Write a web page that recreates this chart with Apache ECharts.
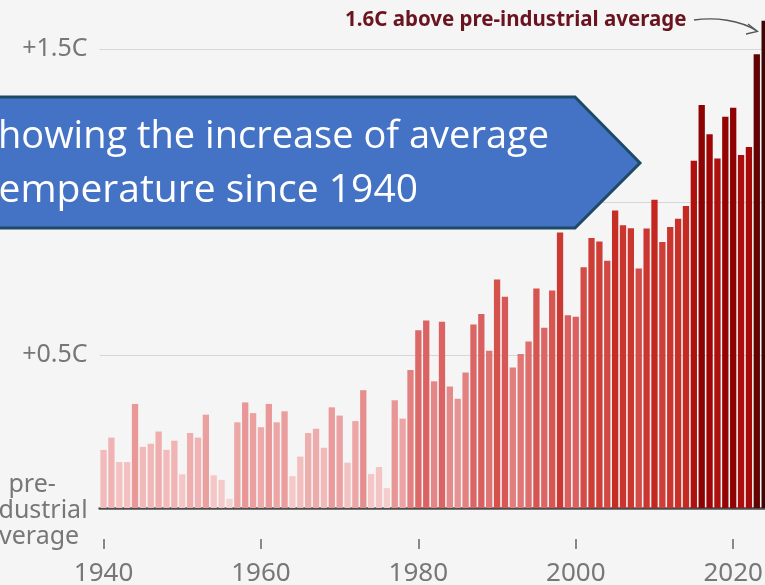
<!DOCTYPE html>
<html>
<head>
<meta charset="utf-8">
<script src="https://cdn.jsdelivr.net/npm/echarts@6/dist/echarts.min.js"></script>
<style>
html,body{margin:0;padding:0;background:#f5f5f5;}
#c{width:765px;height:585px;}
</style>
</head>
<body>
<div id="c"></div>
<script>
var years = ['1940','1941','1942','1943','1944','1945','1946','1947','1948','1949',
'1950','1951','1952','1953','1954','1955','1956','1957','1958','1959',
'1960','1961','1962','1963','1964','1965','1966','1967','1968','1969',
'1970','1971','1972','1973','1974','1975','1976','1977','1978','1979',
'1980','1981','1982','1983','1984','1985','1986','1987','1988','1989',
'1990','1991','1992','1993','1994','1995','1996','1997','1998','1999',
'2000','2001','2002','2003','2004','2005','2006','2007','2008','2009',
'2010','2011','2012','2013','2014','2015','2016','2017','2018','2019',
'2020','2021','2022','2023','2024'];

var anomaly = [0.19,0.23,0.15,0.15,0.34,0.20,0.21,0.25,0.19,0.22,
0.11,0.245,0.23,0.305,0.107,0.092,0.03,0.28,0.345,0.31,
0.264,0.34,0.28,0.316,0.104,0.168,0.245,0.259,0.197,0.329,
0.302,0.148,0.284,0.385,0.111,0.134,0.065,0.352,0.292,0.451,
0.581,0.613,0.414,0.609,0.397,0.357,0.443,0.600,0.634,0.514,
0.747,0.690,0.459,0.503,0.544,0.717,0.589,0.711,0.900,0.630,
0.625,0.787,0.882,0.871,0.808,0.972,0.924,0.914,0.783,0.913,
1.007,0.869,0.918,0.945,0.987,1.135,1.317,1.221,1.142,1.279,
1.308,1.154,1.180,1.483,1.592];

var yTicks = {0:'pre-\nindustrial\naverage', 0.5:'+0.5C', 1:'+1.0C', 1.5:'+1.5C'};
var annotationText = '1.6C above pre-industrial average';
var boxLine1 = 'Showing the increase of average';
var boxLine2 = 'temperature since 1940';

var chart = echarts.init(document.getElementById('c'), null, {renderer:'canvas'});
var FONT = '"Noto Sans", "Open Sans", sans-serif';

chart.setOption({
  backgroundColor: '#f5f5f5',
  animation: false,
  grid: {left: 99.6, width: 669, top: -104, height: 612, containLabel: false, outerBoundsMode: 'none'},
  visualMap: {
    type: 'continuous', show: false, seriesIndex: 0, dimension: 1,
    min: 0, max: 1.6,
    inRange: {color: ['#f8d6d6','#f2b9b9','#e58989','#db6464','#d34a44','#c42820','#a30606','#7e0000','#3a0505']}
  },
  xAxis: [{
    type: 'category', data: years, position: 'bottom',
    axisLine: {show: true, lineStyle: {color: '#4d4d4d', width: 2.5}},
    axisTick: {show: false}, axisLabel: {show: false}, splitLine: {show: false}
  }, {
    type: 'category', data: years, position: 'bottom', offset: 31,
    axisLine: {show: false},
    axisTick: {show: true, interval: 19, alignWithLabel: true, length: 10, lineStyle: {color: '#666', width: 1.5}},
    axisLabel: {interval: 19, fontSize: 26, color: '#777', margin: 22, fontFamily: FONT},
    splitLine: {show: false}
  }],
  yAxis: {
    type: 'value', min: 0, max: 2, interval: 0.5,
    axisLine: {show: false}, axisTick: {show: false},
    splitLine: {show: true, lineStyle: {color: '#d6d6d6', width: 1.2}},
    axisLabel: {
      fontSize: 25, color: '#777', margin: 12, fontFamily: FONT,
      formatter: function (v) {
        if (v === 0) return '{c|' + yTicks[0] + '}';
        return yTicks[v] || '';
      },
      rich: {c: {align: 'center', fontSize: 25, lineHeight: 26, color: '#777', fontFamily: FONT, padding: [6,0,0,0]}}
    }
  },
  series: [{
    type: 'bar', data: anomaly, xAxisIndex: 0, barWidth: '80%',
    itemStyle: {borderWidth: 0}
  }],
  graphic: [
    {type: 'text', z: 100, x: 345, y: 20,
     style: {text: annotationText, font: 'bold 20.5px ' + FONT, fill: '#6a1420', textVerticalAlign: 'middle'}},
    {type: 'bezierCurve', z: 100,
     shape: {x1: 694, y1: 20, cpx1: 715, cpy1: 17, cpx2: 740, cpy2: 20, x2: 757, y2: 31},
     style: {stroke: '#555', lineWidth: 1.3, fill: null}},
    {type: 'polyline', z: 100,
     shape: {points: [[748, 24], [757.5, 31.5], [746, 34]]},
     style: {stroke: '#555', lineWidth: 1.3, fill: null}},
    {type: 'polygon', z: 110,
     shape: {points: [[-10, 97], [575, 97], [640, 163], [575, 228], [-10, 228]]},
     style: {fill: '#4472c4', stroke: '#1d4a66', lineWidth: 3}},
    {type: 'text', z: 120, x: 549, y: 137,
     style: {text: boxLine1, font: '38px "Open Sans", sans-serif', fill: '#ffffff', textAlign: 'right', textVerticalAlign: 'middle'}},
    {type: 'text', z: 120, x: 418, y: 191,
     style: {text: boxLine2, font: '39px "Open Sans", sans-serif', fill: '#ffffff', textAlign: 'right', textVerticalAlign: 'middle'}}
  ]
});
</script>
</body>
</html>
